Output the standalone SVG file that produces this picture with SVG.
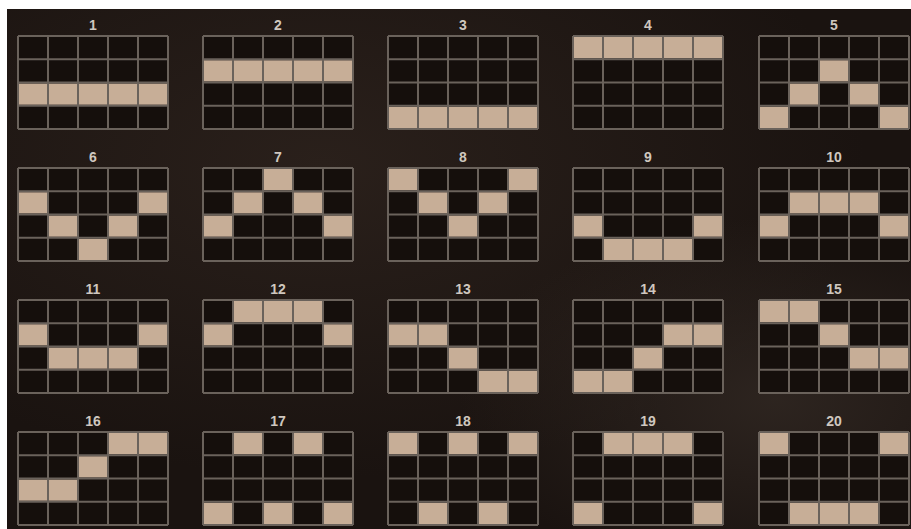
<svg xmlns="http://www.w3.org/2000/svg" xmlns:xlink="http://www.w3.org/1999/xlink" width="911" height="529" viewBox="0 0 911 529">
<style>
.num{font-family:"Liberation Sans",Arial,sans-serif;font-weight:bold;font-size:14px;fill:#cfc7bf;text-anchor:middle}
.cells{fill:#150f0c}
.on{fill:#c7ae97}
.gl{stroke:#6a625b;stroke-width:2;fill:none}
</style>
<defs>
<radialGradient id="bg1" cx="0.35" cy="0.3" r="0.6">
<stop offset="0" stop-color="#2a201b"/>
<stop offset="1" stop-color="#1a1310"/>
</radialGradient>
<radialGradient id="bg2" cx="0.85" cy="0.75" r="0.35">
<stop offset="0" stop-color="#3a302a" stop-opacity="0.6"/>
<stop offset="1" stop-color="#3a302a" stop-opacity="0"/>
</radialGradient>
<g id="gridbase">
<rect class="cells" x="0" y="0" width="150" height="93"/>
</g>
<g id="gridlines">
<path class="gl" d="M0 0H150M0 23.25H150M0 46.5H150M0 69.75H150M0 93H150M0 0V93M30 0V93M60 0V93M90 0V93M120 0V93M150 0V93"/>
</g>
</defs>
<rect x="0" y="0" width="911" height="529" fill="#ffffff"/>
<rect x="7" y="9" width="904" height="520" fill="url(#bg1)"/>
<rect x="7" y="9" width="904" height="520" fill="url(#bg2)"/>

<g id="line1" transform="translate(18,36)"><text class="num" x="75" y="-6">1</text><use href="#gridbase"/>
<rect class="on" x="1" y="47.5" width="28" height="21.25"/><rect class="on" x="31" y="47.5" width="28" height="21.25"/><rect class="on" x="61" y="47.5" width="28" height="21.25"/><rect class="on" x="91" y="47.5" width="28" height="21.25"/><rect class="on" x="121" y="47.5" width="28" height="21.25"/>
<use href="#gridlines"/></g>

<g id="line2" transform="translate(203,36)"><text class="num" x="75" y="-6">2</text><use href="#gridbase"/>
<rect class="on" x="1" y="24.25" width="28" height="21.25"/><rect class="on" x="31" y="24.25" width="28" height="21.25"/><rect class="on" x="61" y="24.25" width="28" height="21.25"/><rect class="on" x="91" y="24.25" width="28" height="21.25"/><rect class="on" x="121" y="24.25" width="28" height="21.25"/>
<use href="#gridlines"/></g>

<g id="line3" transform="translate(388,36)"><text class="num" x="75" y="-6">3</text><use href="#gridbase"/>
<rect class="on" x="1" y="70.75" width="28" height="21.25"/><rect class="on" x="31" y="70.75" width="28" height="21.25"/><rect class="on" x="61" y="70.75" width="28" height="21.25"/><rect class="on" x="91" y="70.75" width="28" height="21.25"/><rect class="on" x="121" y="70.75" width="28" height="21.25"/>
<use href="#gridlines"/></g>

<g id="line4" transform="translate(573,36)"><text class="num" x="75" y="-6">4</text><use href="#gridbase"/>
<rect class="on" x="1" y="1" width="28" height="21.25"/><rect class="on" x="31" y="1" width="28" height="21.25"/><rect class="on" x="61" y="1" width="28" height="21.25"/><rect class="on" x="91" y="1" width="28" height="21.25"/><rect class="on" x="121" y="1" width="28" height="21.25"/>
<use href="#gridlines"/></g>

<g id="line5" transform="translate(759,36)"><text class="num" x="75" y="-6">5</text><use href="#gridbase"/>
<rect class="on" x="1" y="70.75" width="28" height="21.25"/><rect class="on" x="31" y="47.5" width="28" height="21.25"/><rect class="on" x="61" y="24.25" width="28" height="21.25"/><rect class="on" x="91" y="47.5" width="28" height="21.25"/><rect class="on" x="121" y="70.75" width="28" height="21.25"/>
<use href="#gridlines"/></g>

<g id="line6" transform="translate(18,168)"><text class="num" x="75" y="-6">6</text><use href="#gridbase"/>
<rect class="on" x="1" y="24.25" width="28" height="21.25"/><rect class="on" x="31" y="47.5" width="28" height="21.25"/><rect class="on" x="61" y="70.75" width="28" height="21.25"/><rect class="on" x="91" y="47.5" width="28" height="21.25"/><rect class="on" x="121" y="24.25" width="28" height="21.25"/>
<use href="#gridlines"/></g>

<g id="line7" transform="translate(203,168)"><text class="num" x="75" y="-6">7</text><use href="#gridbase"/>
<rect class="on" x="1" y="47.5" width="28" height="21.25"/><rect class="on" x="31" y="24.25" width="28" height="21.25"/><rect class="on" x="61" y="1" width="28" height="21.25"/><rect class="on" x="91" y="24.25" width="28" height="21.25"/><rect class="on" x="121" y="47.5" width="28" height="21.25"/>
<use href="#gridlines"/></g>

<g id="line8" transform="translate(388,168)"><text class="num" x="75" y="-6">8</text><use href="#gridbase"/>
<rect class="on" x="1" y="1" width="28" height="21.25"/><rect class="on" x="31" y="24.25" width="28" height="21.25"/><rect class="on" x="61" y="47.5" width="28" height="21.25"/><rect class="on" x="91" y="24.25" width="28" height="21.25"/><rect class="on" x="121" y="1" width="28" height="21.25"/>
<use href="#gridlines"/></g>

<g id="line9" transform="translate(573,168)"><text class="num" x="75" y="-6">9</text><use href="#gridbase"/>
<rect class="on" x="1" y="47.5" width="28" height="21.25"/><rect class="on" x="31" y="70.75" width="28" height="21.25"/><rect class="on" x="61" y="70.75" width="28" height="21.25"/><rect class="on" x="91" y="70.75" width="28" height="21.25"/><rect class="on" x="121" y="47.5" width="28" height="21.25"/>
<use href="#gridlines"/></g>

<g id="line10" transform="translate(759,168)"><text class="num" x="75" y="-6">10</text><use href="#gridbase"/>
<rect class="on" x="1" y="47.5" width="28" height="21.25"/><rect class="on" x="31" y="24.25" width="28" height="21.25"/><rect class="on" x="61" y="24.25" width="28" height="21.25"/><rect class="on" x="91" y="24.25" width="28" height="21.25"/><rect class="on" x="121" y="47.5" width="28" height="21.25"/>
<use href="#gridlines"/></g>

<g id="line11" transform="translate(18,300)"><text class="num" x="75" y="-6">11</text><use href="#gridbase"/>
<rect class="on" x="1" y="24.25" width="28" height="21.25"/><rect class="on" x="31" y="47.5" width="28" height="21.25"/><rect class="on" x="61" y="47.5" width="28" height="21.25"/><rect class="on" x="91" y="47.5" width="28" height="21.25"/><rect class="on" x="121" y="24.25" width="28" height="21.25"/>
<use href="#gridlines"/></g>

<g id="line12" transform="translate(203,300)"><text class="num" x="75" y="-6">12</text><use href="#gridbase"/>
<rect class="on" x="1" y="24.25" width="28" height="21.25"/><rect class="on" x="31" y="1" width="28" height="21.25"/><rect class="on" x="61" y="1" width="28" height="21.25"/><rect class="on" x="91" y="1" width="28" height="21.25"/><rect class="on" x="121" y="24.25" width="28" height="21.25"/>
<use href="#gridlines"/></g>

<g id="line13" transform="translate(388,300)"><text class="num" x="75" y="-6">13</text><use href="#gridbase"/>
<rect class="on" x="1" y="24.25" width="28" height="21.25"/><rect class="on" x="31" y="24.25" width="28" height="21.25"/><rect class="on" x="61" y="47.5" width="28" height="21.25"/><rect class="on" x="91" y="70.75" width="28" height="21.25"/><rect class="on" x="121" y="70.75" width="28" height="21.25"/>
<use href="#gridlines"/></g>

<g id="line14" transform="translate(573,300)"><text class="num" x="75" y="-6">14</text><use href="#gridbase"/>
<rect class="on" x="1" y="70.75" width="28" height="21.25"/><rect class="on" x="31" y="70.75" width="28" height="21.25"/><rect class="on" x="61" y="47.5" width="28" height="21.25"/><rect class="on" x="91" y="24.25" width="28" height="21.25"/><rect class="on" x="121" y="24.25" width="28" height="21.25"/>
<use href="#gridlines"/></g>

<g id="line15" transform="translate(759,300)"><text class="num" x="75" y="-6">15</text><use href="#gridbase"/>
<rect class="on" x="1" y="1" width="28" height="21.25"/><rect class="on" x="31" y="1" width="28" height="21.25"/><rect class="on" x="61" y="24.25" width="28" height="21.25"/><rect class="on" x="91" y="47.5" width="28" height="21.25"/><rect class="on" x="121" y="47.5" width="28" height="21.25"/>
<use href="#gridlines"/></g>

<g id="line16" transform="translate(18,432)"><text class="num" x="75" y="-6">16</text><use href="#gridbase"/>
<rect class="on" x="1" y="47.5" width="28" height="21.25"/><rect class="on" x="31" y="47.5" width="28" height="21.25"/><rect class="on" x="61" y="24.25" width="28" height="21.25"/><rect class="on" x="91" y="1" width="28" height="21.25"/><rect class="on" x="121" y="1" width="28" height="21.25"/>
<use href="#gridlines"/></g>

<g id="line17" transform="translate(203,432)"><text class="num" x="75" y="-6">17</text><use href="#gridbase"/>
<rect class="on" x="1" y="70.75" width="28" height="21.25"/><rect class="on" x="31" y="1" width="28" height="21.25"/><rect class="on" x="61" y="70.75" width="28" height="21.25"/><rect class="on" x="91" y="1" width="28" height="21.25"/><rect class="on" x="121" y="70.75" width="28" height="21.25"/>
<use href="#gridlines"/></g>

<g id="line18" transform="translate(388,432)"><text class="num" x="75" y="-6">18</text><use href="#gridbase"/>
<rect class="on" x="1" y="1" width="28" height="21.25"/><rect class="on" x="31" y="70.75" width="28" height="21.25"/><rect class="on" x="61" y="1" width="28" height="21.25"/><rect class="on" x="91" y="70.75" width="28" height="21.25"/><rect class="on" x="121" y="1" width="28" height="21.25"/>
<use href="#gridlines"/></g>

<g id="line19" transform="translate(573,432)"><text class="num" x="75" y="-6">19</text><use href="#gridbase"/>
<rect class="on" x="1" y="70.75" width="28" height="21.25"/><rect class="on" x="31" y="1" width="28" height="21.25"/><rect class="on" x="61" y="1" width="28" height="21.25"/><rect class="on" x="91" y="1" width="28" height="21.25"/><rect class="on" x="121" y="70.75" width="28" height="21.25"/>
<use href="#gridlines"/></g>

<g id="line20" transform="translate(759,432)"><text class="num" x="75" y="-6">20</text><use href="#gridbase"/>
<rect class="on" x="1" y="1" width="28" height="21.25"/><rect class="on" x="31" y="70.75" width="28" height="21.25"/><rect class="on" x="61" y="70.75" width="28" height="21.25"/><rect class="on" x="91" y="70.75" width="28" height="21.25"/><rect class="on" x="121" y="1" width="28" height="21.25"/>
<use href="#gridlines"/></g>
<g id="connectors"/>
</svg>
